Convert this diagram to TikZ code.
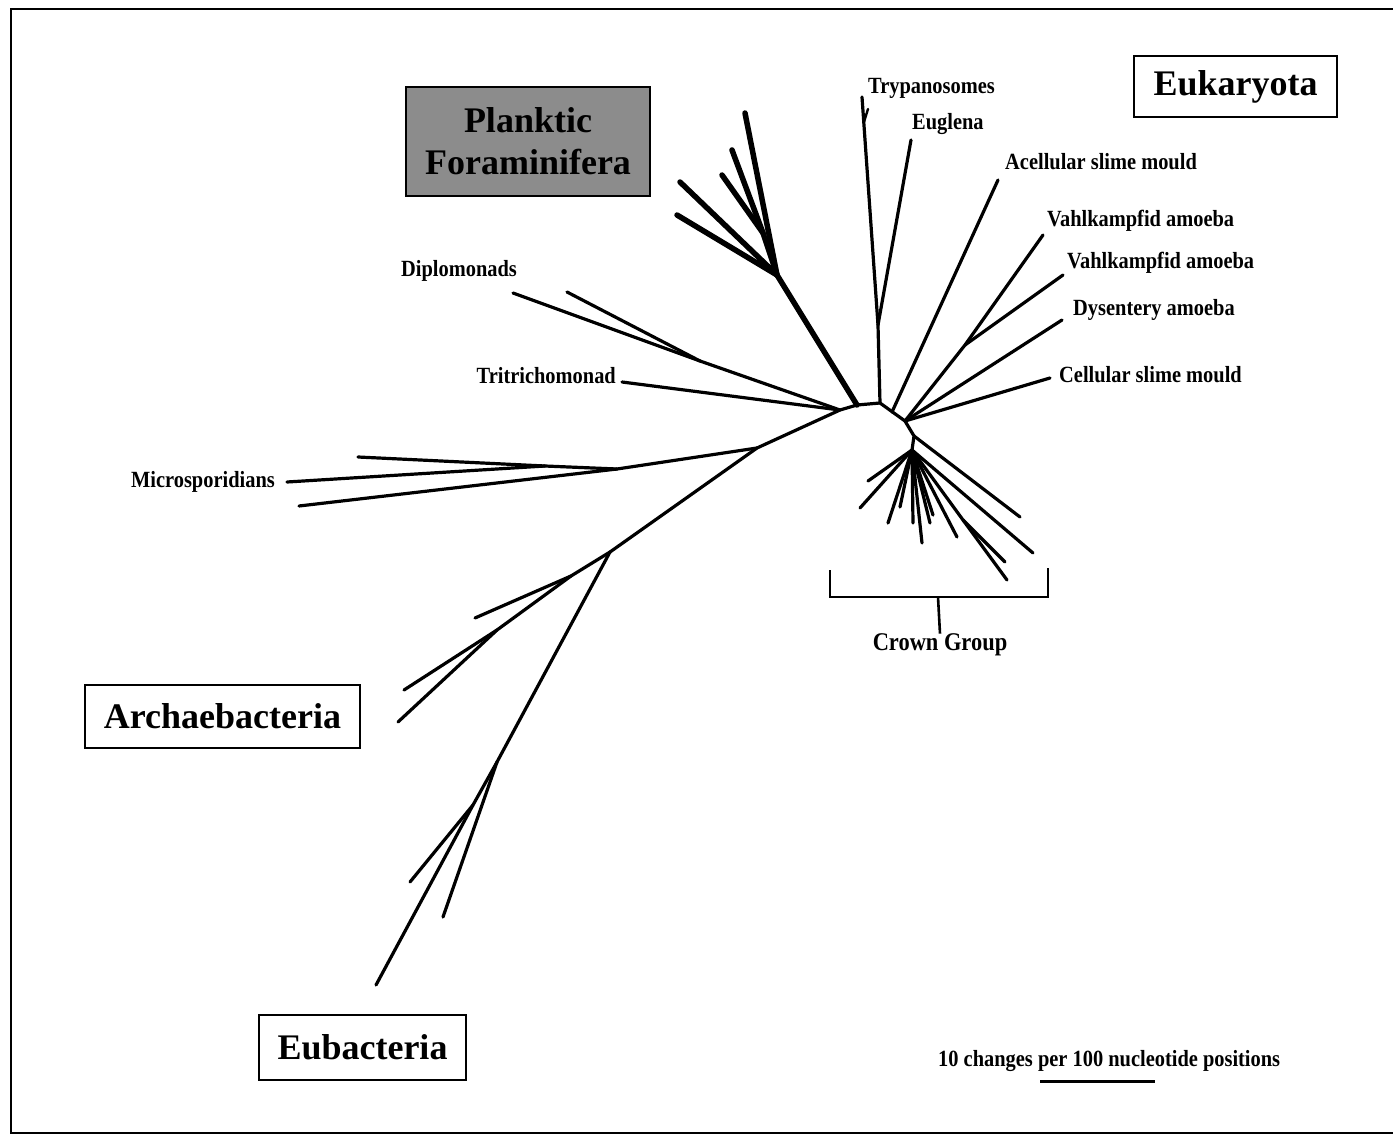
\documentclass[tikz,border=0pt]{standalone}
\usepackage{fontspec}
\setmainfont{Liberation Serif}
\newfontfamily\taxonfont[FakeStretch=0.88]{Liberation Serif}
\usetikzlibrary{positioning}
\definecolor{ForamGray}{HTML}{8C8C8C}
\tikzset{
  branch/.style={line width=3.2pt,line cap=round,line join=round},
  foram/.style={line width=5.5pt,line cap=round,line join=round},
  taxon/.style={inner sep=0pt,font=\taxonfont\fontsize{23.2}{25}\selectfont\bfseries},
  kingdom/.style={rectangle,draw,line width=2pt,inner sep=0pt,
                  font=\fontsize{36}{40}\selectfont\bfseries},
  frame/.style={line width=2.5pt},
}

\begin{document}
\begin{tikzpicture}[x=1pt,y=-1pt]
  \useasboundingbox (0,0) rectangle (1393,1135);
  \draw[frame] (1393,9) -- (11,9) -- (11,1133) -- (1393,1133);

  % boxed group names
  \node[kingdom,minimum width=203pt,minimum height=61pt] (euk) at (1235.5,86.5) {Eukaryota};
  \node[kingdom,minimum width=275pt,minimum height=63pt] (arch) at (222.5,716.5) {Archaebacteria};
  \node[kingdom,minimum width=207pt,minimum height=65pt] (eub) at (362.5,1047.5) {Eubacteria};
  \node[kingdom,fill=ForamGray,line width=1.5pt,minimum width=244pt,minimum height=109pt,
        align=center,font=\fontsize{36}{42}\selectfont\bfseries] (pf) at (528,141.5)
    {Planktic\\Foraminifera};

  % taxon labels
  \node[taxon,anchor=base west] (trypa) at (868,93) {Trypanosomes};
  \node[taxon,anchor=base west] (eugl) at (912,129) {Euglena};
  \node[taxon,anchor=base west] (acell) at (1005,169) {Acellular slime mould};
  \node[taxon,anchor=base west] (vahlA) at (1047,226) {Vahlkampfid amoeba};
  \node[taxon,anchor=base west] (vahlB) at (1067,268) {Vahlkampfid amoeba};
  \node[taxon,anchor=base west] (dys) at (1073,315) {Dysentery amoeba};
  \node[taxon,anchor=base west] (cell) at (1059,382) {Cellular slime mould};
  \node[taxon,anchor=base west] (diplo) at (401,276) {Diplomonads};
  \node[taxon,anchor=base east] (tritri) at (616,383) {Tritrichomonad};
  \node[taxon,anchor=base east] (micro) at (275,487) {Microsporidians};
  \node[taxon,font=\taxonfont\fontsize{25.5}{27}\selectfont\bfseries] (crown) at (940,645) {Crown Group};
  \node[taxon,anchor=base west] (scale) at (938,1066) {10 changes per 100 nucleotide positions};

  % junctions along the backbone
  \coordinate (bk) at (610,552);
  \coordinate (mj) at (757,448);
  \coordinate (a1) at (840,410);
  \coordinate (a2) at (857,405);
  \coordinate (a3) at (880,403);
  \coordinate (a4) at (905,421);
  \coordinate (c1) at (914,436);
  \coordinate (cr) at (912,450);
  \draw[branch] (bk) -- (mj) -- (a1) -- (a2) -- (a3) -- (a4) -- (c1) -- (cr);

  % Eubacteria
  \coordinate (eb1) at (497,762);
  \coordinate (eb2) at (473,805);
  \coordinate (ebt) at (376,985);
  \coordinate (ebA) at (443,917);
  \coordinate (ebB) at (410,882);
  \draw[branch] (bk) -- (eb1) -- (eb2) -- (ebt);
  \draw[branch] (eb1) -- (ebA);
  \draw[branch] (eb2) -- (ebB);

  % Archaebacteria
  \coordinate (ar1) at (571,576);
  \coordinate (ar2) at (497,630);
  \coordinate (arA) at (475,618);
  \coordinate (arB) at (404,690);
  \coordinate (arC) at (398,722);
  \draw[branch] (bk) -- (ar1) -- (ar2) -- (arC);
  \draw[branch] (ar1) -- (arA);
  \draw[branch] (ar2) -- (arB);

  % Microsporidians
  \coordinate (mc1) at (617,469);
  \coordinate (mc2) at (545,466);
  \coordinate (mcA) at (358,457);
  \coordinate (mcB) at (287,482);
  \coordinate (mcC) at (299,506);
  \draw[branch] (mj) -- (mc1) -- (mc2) -- (mcB);
  \draw[branch] (mc2) -- (mcA);
  \draw[branch] (mc1) -- (mcC);

  % Diplomonads and Tritrichomonad
  \coordinate (dp) at (700,361);
  \coordinate (dpA) at (513,293);
  \coordinate (dpB) at (567,292);
  \coordinate (tt) at (622,382);
  \draw[branch] (a1) -- (dp) -- (dpA);
  \draw[branch] (dp) -- (dpB);
  \draw[branch] (a1) -- (tt);

  % Planktic foraminifera
  \coordinate (fa) at (777,275);
  \coordinate (fb) at (763,233);
  \draw[foram] (a2) -- (fa) -- (745,113);
  \draw[foram] (fa) -- (fb) -- (732,150);
  \draw[foram] (fb) -- (722,175);
  \draw[foram] (fa) -- (680,182);
  \draw[foram] (fa) -- (677,215);

  % Trypanosomes and Euglena
  \coordinate (tr) at (878,325);
  \coordinate (trA) at (862,97);
  \coordinate (trk) at (864,122);
  \coordinate (trB) at (911,140);
  \draw[branch] (a3) -- (tr) -- (trA);
  \draw[branch] (tr) -- (trB);
  \draw[line width=2.4pt,line cap=round] (trk) -- (868,109);

  % slime moulds and amoebae
  \coordinate (ac0) at (892,412);
  \coordinate (vk) at (965,345);
  \draw[branch] (ac0) -- (998,180);
  \draw[branch] (a4) -- (vk) -- (1043,235);
  \draw[branch] (vk) -- (1063,275);
  \draw[branch] (a4) -- (1062,320);
  \draw[branch] (a4) -- (1050,378);

  % crown group radiation
  \coordinate (c2) at (963,520);
  \draw[branch] (c1) -- (1020,517);
  \draw[branch] (cr) -- (1033,553);
  \draw[branch] (cr) -- (c2) -- (1007,580);
  \draw[branch] (c2) -- (1005,562);
  \draw[branch] (cr) -- (957,537);
  \draw[branch] (cr) -- (933,515);
  \draw[branch] (cr) -- (930,523);
  \draw[branch] (cr) -- (922,543);
  \draw[branch] (cr) -- (913,523);
  \draw[branch] (cr) -- (900,507);
  \draw[branch] (cr) -- (888,523);
  \draw[branch] (cr) -- (868,481);
  \draw[branch] (cr) -- (860,508);

  % bracket under the crown
  \coordinate (brL) at (830,570);
  \coordinate (brR) at (1048,568);
  \coordinate (brM) at (938,597);
  \draw[line width=2.6pt] (brL) -- (830,597) -- (1048,597) -- (brR);
  \draw[line width=2.6pt] (brM) -- (crown.north);

  % scale bar
  \coordinate (sbL) at (1040,1081);
  \coordinate (sbR) at (1155,1081);
  \draw[line width=3pt] (sbL) -- (sbR);
\end{tikzpicture}
\end{document}
